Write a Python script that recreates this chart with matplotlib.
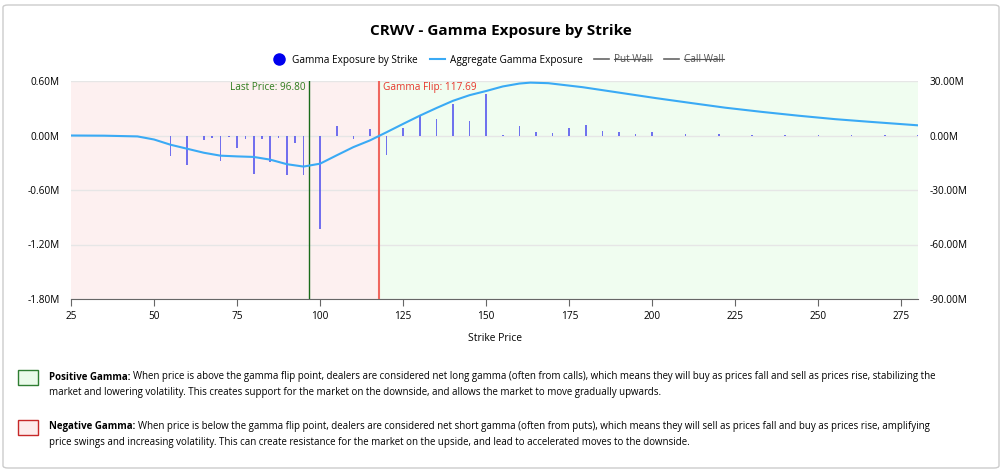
import matplotlib
matplotlib.use("Agg")
import matplotlib.pyplot as plt
from matplotlib.patches import FancyBboxPatch, Rectangle
from matplotlib.lines import Line2D
import numpy as np

plt.rcParams["font.family"] = "Open Sans"

strikes = [50, 55, 60, 65, 67.5, 70, 72.5, 75, 77.5, 80, 82.5, 85, 87.5, 90, 92.5, 95, 100, 105, 110, 115,
           120, 125, 130, 135, 140, 145, 150, 155, 160, 165, 170, 175, 180, 185, 190, 195, 200,
           210, 220, 230, 240, 250, 260, 270, 280]
gex = [-0.005, -0.23, -0.33, -0.045, -0.03, -0.28, -0.02, -0.14, -0.035, -0.42, -0.04, -0.29, -0.025, -0.43, -0.08, -0.44,
       -1.03, 0.10, -0.04, 0.07, -0.21, 0.08, 0.21, 0.18, 0.35, 0.16, 0.46, 0.007, 0.105, 0.04, 0.033, 0.08, 0.115,
       0.05, 0.04, 0.018, 0.04, 0.018, 0.015, 0.008, 0.008, 0.008, 0.006, 0.006, 0.004]
agg_x = [25, 35, 45, 50, 55, 60, 65, 70, 75, 80, 85, 90, 95, 100, 105, 110, 115, 120, 125, 130, 135, 140, 145,
         150, 155, 160, 163.3, 168.7, 179, 190, 201, 212, 222, 233, 244, 255, 265, 280]
agg_y = [0, -0.1, -0.5, -2.2, -5.1, -7.3, -9.5, -11.1, -11.5, -11.8, -13.3, -15.8, -17.1, -15.5, -10.9, -6.4, -2.7,
         1.8, 6.4, 10.9, 15.1, 19.1, 22.2, 24.5, 27.0, 28.6, 29.1, 28.8, 26.6, 23.6, 20.6, 17.8, 15.3, 13.0, 10.9, 9.0, 7.6, 5.6]
last_price = 96.80
gamma_flip = 117.69
left_ticks = [0.6, 0.0, -0.6, -1.2, -1.8]
right_ticks = [30, 0, -30, -60, -90]
x_ticks = [25, 50, 75, 100, 125, 150, 175, 200, 225, 250, 275]

W, H = 1002, 471
fig = plt.figure(figsize=(W/100, H/100), dpi=100)
fig.patches.append(FancyBboxPatch((3/W, 3/H), (W-6)/W, (H-8)/H, boxstyle="round,pad=0,rounding_size=0.005",
                                  transform=fig.transFigure, fill=False, ec="#cccccc", lw=1))

ax = fig.add_axes([71/W, 1-299/H, (918-71)/W, (299-81)/H])
ax.set_xlim(25, 280)
ax.set_ylim(-1.8, 0.6)
ax.axvspan(25, gamma_flip, color="#fdf0f0", zorder=0)
ax.axvspan(gamma_flip, 280, color="#f0fdf0", zorder=0)
for t in left_ticks:
    ax.axhline(t, color="#e6e6e6", lw=1, zorder=1)
ax.bar(strikes, gex, width=0.5, color="#4444ee", alpha=0.75, zorder=3)
ax.axvline(last_price, color="#1a6b1a", lw=1, zorder=4)
ax.axvline(gamma_flip, color="#f0675f", lw=1.5, zorder=4)
ax.text(last_price - 1.2, 0.585, f"Last Price: {last_price:.2f}", color="#2e7d1e", fontsize=7.2, ha="right", va="top")
ax.text(gamma_flip + 1.2, 0.585, f"Gamma Flip: {gamma_flip:.2f}", color="#e8352c", fontsize=7.2, ha="left", va="top")
ax.set_yticks(left_ticks)
ax.set_yticklabels([f"{t:.2f}M" for t in left_ticks], fontsize=7.2)
ax.set_xticks(x_ticks)
ax.set_xticklabels([str(t) for t in x_ticks], fontsize=7.2)
ax.tick_params(axis="y", length=0, pad=8)
ax.tick_params(axis="x", length=5, color="#666666")
for s in ["top", "right", "left"]:
    ax.spines[s].set_visible(False)
ax.spines["bottom"].set_color("#666666")
ax.set_xlabel("Strike Price", fontsize=7.5, labelpad=8)

ax2 = ax.twinx()
ax2.set_ylim(-90, 30)
ax2.plot(agg_x, agg_y, color="#3aaaf5", lw=1.5, zorder=5)
ax2.set_yticks(right_ticks)
ax2.set_yticklabels([f"{t:.2f}M" for t in right_ticks], fontsize=7.2)
ax2.tick_params(axis="y", length=0, pad=8)
for s in ["top", "right", "left", "bottom"]:
    ax2.spines[s].set_visible(False)

fig.text(0.5, 1-31/H, "CRWV - Gamma Exposure by Strike", ha="center", va="center", fontsize=11, fontweight="bold")
handles = [Line2D([], [], marker="o", ls="", color="#0000ee", markersize=8),
           Line2D([], [], color="#3aaaf5", lw=1.5),
           Line2D([], [], color="#666666", lw=1.2),
           Line2D([], [], color="#666666", lw=1.2)]
leg = fig.legend(handles, ["Gamma Exposure by Strike", "Aggregate Gamma Exposure", "Put Wall", "Call Wall"],
                 loc="center", bbox_to_anchor=(0.497, 1-60/H), ncol=4, frameon=False, fontsize=7.2,
                 handlelength=1.5, columnspacing=1.2, handletextpad=0.5)
for t in leg.get_texts()[2:]:
    t.set_color("#555555")

fig.canvas.draw()
r = fig.canvas.get_renderer()
for i, t in enumerate(leg.get_texts()[2:]):
    bb = t.get_window_extent(r)
    yy = (bb.y0 + bb.y1) / 2 / H + 1/H
    fig.add_artist(Line2D([bb.x0 / W, bb.x1 / W], [yy, yy], color="#555555", lw=0.8, transform=fig.transFigure))

def para(y0, title, lines, fc, ec):
    fig.patches.append(Rectangle((18/W, 1-(y0+8)/H), 20/W, 15/H, transform=fig.transFigure, fc=fc, ec=ec, lw=1))
    tb = fig.text(49/W, 1-y0/H, title, fontsize=7, fontweight="bold", va="center")
    fig.canvas.draw()
    bb = tb.get_window_extent(fig.canvas.get_renderer())
    fig.text(bb.x1/W + 3/W, 1-y0/H, lines[0], fontsize=7, va="center")
    fig.text(49/W, 1-(y0+15)/H, lines[1], fontsize=7, va="center")

para(377, "Positive Gamma:",
     ["When price is above the gamma flip point, dealers are considered net long gamma (often from calls), which means they will buy as prices fall and sell as prices rise, stabilizing the",
      "market and lowering volatility. This creates support for the market on the downside, and allows the market to move gradually upwards."],
     "#eafbea", "#2e7d32")
para(427, "Negative Gamma:",
     ["When price is below the gamma flip point, dealers are considered net short gamma (often from puts), which means they will sell as prices fall and buy as prices rise, amplifying",
      "price swings and increasing volatility. This can create resistance for the market on the upside, and lead to accelerated moves to the downside."],
     "#fdecec", "#c62828")

fig.savefig("out.png", dpi=100)
